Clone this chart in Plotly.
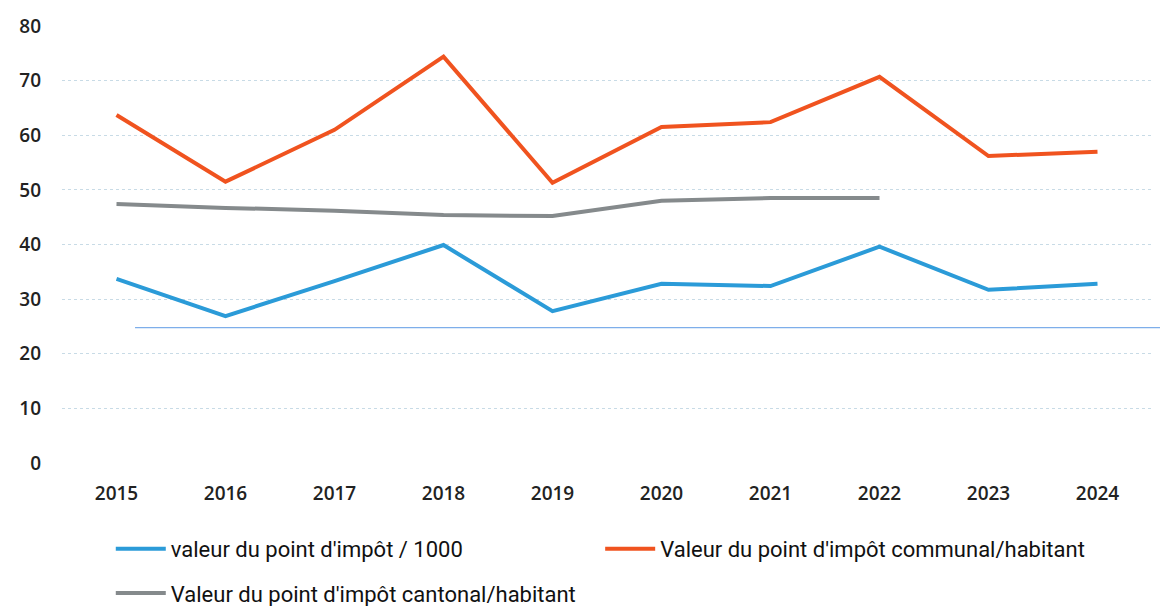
import plotly.graph_objects as go

years = ["2015", "2016", "2017", "2018", "2019", "2020", "2021", "2022", "2023", "2024"]
point_1000 = [33.7, 26.9, 33.3, 39.9, 27.8, 32.8, 32.4, 39.6, 31.7, 32.8]
communal = [63.7, 51.5, 61.0, 74.4, 51.3, 61.5, 62.4, 70.7, 56.2, 57.0]
cantonal = [47.4, 46.7, 46.2, 45.4, 45.2, 48.0, 48.5, 48.5, None, None]
names = ["valeur du point d'impôt / 1000",
         "Valeur du point d'impôt communal/habitant",
         "Valeur du point d'impôt cantonal/habitant"]
colors = ["#2b9bd8", "#f0531f", "#858a8c"]
legends = ["legend", "legend2", "legend3"]
artifact_y = 24.8

fig = go.Figure()
for vals, name, col, lg in zip([point_1000, communal, cantonal], names, colors, legends):
    fig.add_trace(go.Scatter(x=years, y=vals, name=name, mode="lines", legend=lg,
                             line=dict(color=col, width=4), connectgaps=False))

fig.add_shape(type="line", xref="paper", yref="y", x0=0.067, x1=1.03,
              y0=artifact_y, y1=artifact_y, line=dict(color="#7eaeea", width=1.2))

tick_font = dict(size=19, family="Open Sans, sans-serif", color="#222", weight=600)
leg_font = dict(size=22, family="Roboto, sans-serif", color="#111")


def leg(x, y):
    return dict(orientation="h", xref="container", yref="container",
                x=x, y=y, xanchor="left", yanchor="top",
                font=leg_font, itemwidth=50, bgcolor="rgba(0,0,0,0)")


fig.update_layout(
    width=1168, height=606,
    margin=dict(l=54, r=24, t=18, b=151, autoexpand=False),
    paper_bgcolor="white", plot_bgcolor="white",
    font=dict(family="Roboto, sans-serif", color="#222"),
    showlegend=True,
    legend=leg(0.088, 0.142),
    legend2=leg(0.507, 0.142),
    legend3=leg(0.088, 0.069),
)
fig.update_xaxes(type="category", showgrid=False, zeroline=False, showline=False,
                 ticks="", tickfont=tick_font, ticklabelstandoff=17, range=[-0.5, 9.5])
fig.update_yaxes(range=[0, 80], dtick=10, showgrid=True, gridcolor="#c8dbe6",
                 griddash="dot", gridwidth=1, zeroline=False, showline=False,
                 tickfont=tick_font, ticklabelstandoff=20)
fig.write_html("out.html")
